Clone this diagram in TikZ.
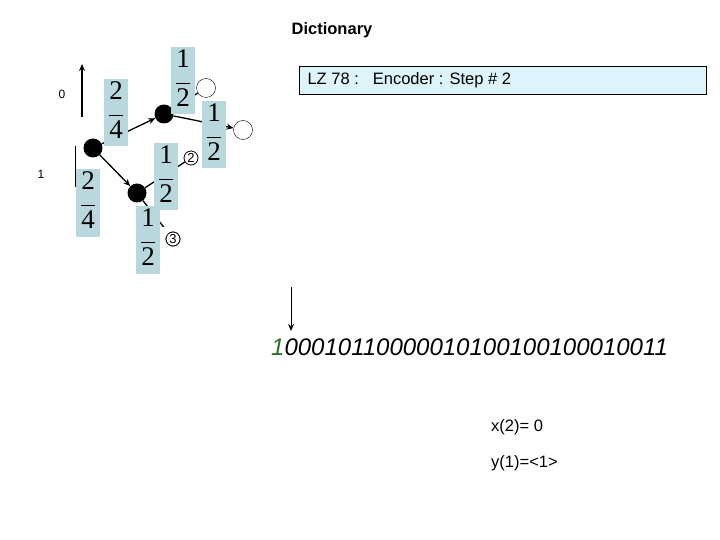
\documentclass[tikz,border=0pt]{standalone}
\usepackage{fontspec}
\setmainfont{Liberation Sans}
\newfontfamily\tms{Liberation Serif}
\usetikzlibrary{arrows.meta}
\definecolor{fbox}{RGB}{184,216,222}
\definecolor{tbox}{RGB}{220,244,250}
\definecolor{dgreen}{RGB}{40,110,40}
\tikzset{
 frac/.style={fill=fbox,minimum width=24pt,minimum height=57pt,inner sep=0pt,font=\tms\fontsize{27}{28}\selectfont},
 blk/.style={circle,fill=black,minimum size=19pt,inner sep=0pt},
 wht/.style={circle,draw=black,fill=white,minimum size=19pt,inner sep=0pt},
 arr/.style={-{Stealth[length=7pt,width=6pt]},line width=1.3pt},
 ln/.style={line width=1.3pt},
 circ/.style={circle,draw=black,line width=0.8pt,fill=white,minimum size=14pt,inner sep=0pt,font=\fontsize{13}{14}\selectfont},
 small/.style={font=\fontsize{12}{14}\selectfont},
 txt/.style={font=\fontsize{16.5}{18}\selectfont}
}
\newcommand{\fr}[2]{\begin{tabular}{@{}c@{}}#1\\[-11pt]\rule{14pt}{0.7pt}\\[-6pt]#2\end{tabular}}
\begin{document}
\begin{tikzpicture}[x=1pt,y=-1pt]
\useasboundingbox (0,0) rectangle (720,540);
\node[font=\bfseries\fontsize{16.5}{18}\selectfont] (title) at (332,30) {Dictionary};
\node[draw=black,line width=0.4pt,fill=tbox,minimum width=407pt,minimum height=28pt,anchor=west,inner sep=0pt] (hdr) at (299,80) {};
\node[anchor=west,txt] (hdrt) at (304,80) {LZ 78 :\hspace{14pt}Encoder : Step \# 2};
\node[small] (l0) at (62,94) {0};
\node[small] (l1) at (41,174) {1};
\coordinate (u0) at (82,117); \coordinate (u1) at (82,64);
\draw[arr] (u0) -- (u1);
\coordinate (v0) at (75,146); \coordinate (v1) at (75,187);
\draw[line width=1pt] (v0) -- (v1);
\node[blk] (root) at (93,148) {};
\node[blk] (A) at (164,114) {};
\node[blk] (B) at (137,193) {};
\node[wht] (w1) at (206,88) {};
\node[wht] (w2) at (243,130) {};
\draw[arr] (root) -- (A);
\draw[arr] (root) -- (B);
\draw[arr] (A) -- (w2);
\draw[ln] (A) -- (w1);
\node[circ] (c2) at (191,158) {2};
\node[circ] (c3) at (173,239) {3};
\draw[ln] (B) -- (c2);
\draw[ln] (B) -- (c3);
\node[frac] (f1) at (116,113) {\fr{2}{4}};
\node[frac] (f2) at (183,81) {\fr{1}{2}};
\node[frac] (f3) at (214,135) {\fr{1}{2}};
\node[frac] (f4) at (166,177) {\fr{1}{2}};
\node[frac] (f5) at (88,203) {\fr{2}{4}};
\node[frac] (f6) at (148,240) {\fr{1}{2}};
\node[fill=white,minimum width=8pt,minimum height=10pt,inner sep=0pt] at (165,232) {};
\node[circ] at (173,239) {3};
\coordinate (d0) at (291,287); \coordinate (d1) at (291,331);
\draw[arr,line width=1pt] (d0) -- (d1);
\node[anchor=west,inner sep=0pt,font=\itshape\fontsize{24}{26}\selectfont] (bits) at (271,347) {\textcolor{dgreen}{1}00010110000010100100100010011};
\node[anchor=west,txt,inner sep=0pt] (x2) at (491,427) {x(2)= 0};
\node[anchor=west,txt,inner sep=0pt] (y1) at (491,463) {y(1)=<1>};
\end{tikzpicture}
\end{document}
